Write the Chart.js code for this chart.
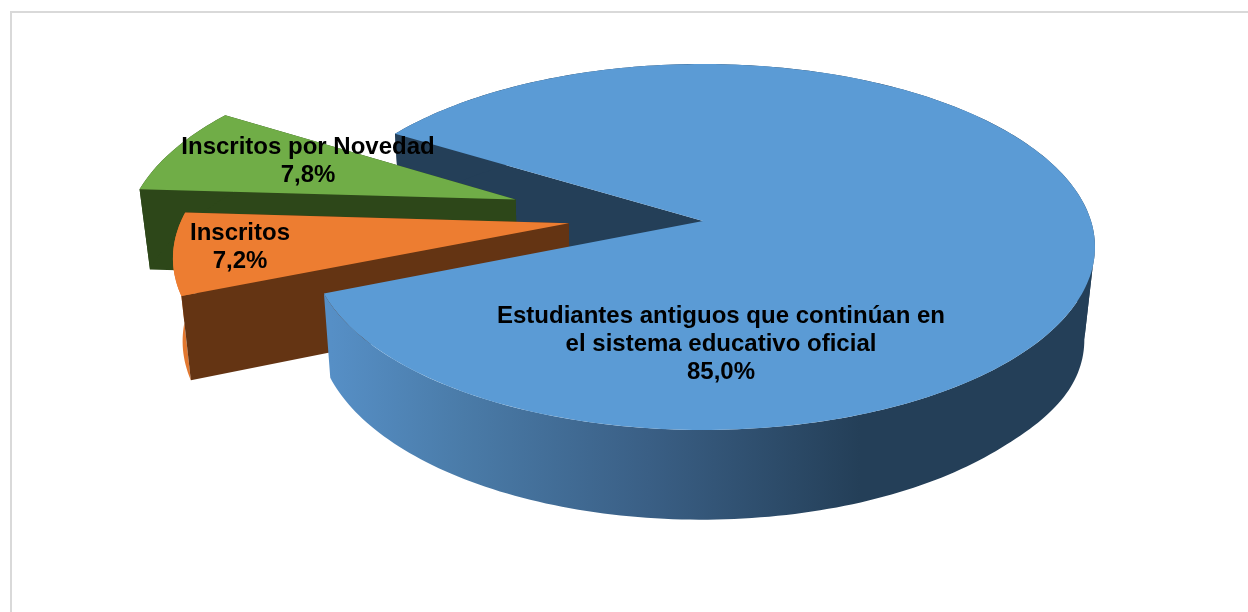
<!DOCTYPE html>
<html><head><meta charset="utf-8">
<style>
html,body{margin:0;padding:0;background:#fff;overflow:hidden;width:1248px;height:612px}
#frame{position:absolute;left:10px;top:11px;width:1300px;height:700px;border:2.5px solid #d9d9d9;box-sizing:border-box}
canvas{position:absolute;left:0;top:0}
</style>
<script src="https://cdn.jsdelivr.net/npm/chart.js@4"></script>
</head><body>
<div id="frame"></div>
<canvas id="c" width="1248" height="612"></canvas>
<script>
const categories = ["Estudiantes antiguos que continúan en el sistema educativo oficial", "Inscritos", "Inscritos por Novedad"];
const shares = [85.0, 7.2, 7.8];
const explode = [0, 0.35, 0.515];
const topColors = ["#5B9BD5", "#ED7D31", "#70AD47"];
const sideColors = ["#243F58", "#643413", "#2D4719"];
const rimColors = ["#243F58", "#E27830", "#2D4719"];
const rotationDeg = 301.5;

// Perspective camera for the tilted pie
const cam = {cx:703, cy:221, R:388, b:179.3, k:0.142};
const tiltFix = [0, -0.046, 0.033];
const project = (u,v) => { const w = 1-cam.k*v; return [cam.cx+cam.R*u/w, cam.cy+cam.b*v/w]; };
const drop = p => {
  const t=Math.max(0,(p[0]-1000)/95);
  return [701+(p[0]-703)*0.978, p[1]*1.04+72.5+10*t*t];
};

function outline(el, from, to){
  const i0=el.$context.index;
  const e = el.options.offset/100, mid=(el.startAngle+el.endAngle)/2;
  const ou=Math.cos(mid)*e, ov=Math.sin(mid)*e+tiltFix[i0], pts=[];
  const n=Math.max(2,Math.ceil((to-from)/0.02));
  for(let i=0;i<=n;i++){const a=from+(to-from)*i/n; pts.push(project(ou+Math.cos(a),ov+Math.sin(a)));}
  return {pts, tip:project(ou,ov)};
}
function fillPoly(ctx,pts,fill){
  ctx.beginPath(); pts.forEach((p,i)=>i?ctx.lineTo(p[0],p[1]):ctx.moveTo(p[0],p[1])); ctx.closePath();
  ctx.fillStyle=fill; ctx.fill();
}
function rimWall(ctx,el,from,to,fill){
  const {pts}=outline(el,from,to);
  fillPoly(ctx,pts.concat(pts.map(drop).reverse()),fill);
}
function radialWall(ctx,el,a,fill){
  const o=outline(el,a,a+1e-4), p=o.pts[0];
  fillPoly(ctx,[o.tip,p,drop(p),drop(o.tip)],fill);
}
function topFace(ctx,el,fill){
  const o=outline(el,el.startAngle,el.endAngle);
  fillPoly(ctx,[o.tip].concat(o.pts),fill);
}
function wrap(ctx,text,maxW){
  const lines=[];let cur="";
  text.split(" ").forEach(w=>{const t=cur?cur+" "+w:w; if(ctx.measureText(t).width>maxW&&cur){lines.push(cur);cur=w;}else cur=t;});
  lines.push(cur);return lines;
}
const labelAnchors=[[721,316.5],[240,233.5],[308,147.5]];
const pie3d={
  id:'pie3d',
  beforeDatasetDraw(chart){
    const ctx=chart.ctx, [blue,orange,green]=chart.getDatasetMeta(0).data;
    ctx.save();
    radialWall(ctx,blue,blue.startAngle,sideColors[0]);
    // the rim turns from hidden to visible where the pie is widest on screen
    const fromFront=Math.ceil(blue.startAngle/(2*Math.PI))*2*Math.PI+Math.asin(cam.k);
    rimWall(ctx,blue,blue.startAngle,fromFront,sideColors[0]);
    radialWall(ctx,green,green.endAngle,sideColors[2]);
    radialWall(ctx,green,green.startAngle,sideColors[2]);
    rimWall(ctx,green,green.startAngle,green.endAngle,rimColors[2]);
    topFace(ctx,green,topColors[2]);
    radialWall(ctx,orange,orange.endAngle,sideColors[1]);
    rimWall(ctx,orange,orange.startAngle,orange.endAngle,rimColors[1]);
    radialWall(ctx,orange,orange.startAngle,sideColors[1]);
    topFace(ctx,orange,topColors[1]);
    const g=ctx.createLinearGradient(331,0,860,0);
    g.addColorStop(0,'#568FC6'); g.addColorStop(0.25,'#4A7BA8'); g.addColorStop(0.6,'#3A5F85'); g.addColorStop(1,'#243F58');
    rimWall(ctx,blue,fromFront,blue.endAngle,g);
    topFace(ctx,blue,topColors[0]);
    ctx.restore();
    return false;
  },
  afterDatasetsDraw(chart){
    const ctx=chart.ctx;
    ctx.save();
    ctx.font='bold 24px "Liberation Sans", Arial, sans-serif';
    ctx.fillStyle='#000'; ctx.textAlign='center'; ctx.textBaseline='middle';
    categories.forEach((c,i)=>{
      const lines=wrap(ctx,c,455).concat([shares[i].toFixed(1).replace('.',',')+'%']);
      lines.forEach((t,j)=>ctx.fillText(t,labelAnchors[i][0],labelAnchors[i][1]+j*28));
    });
    ctx.restore();
  }
};
new Chart(document.getElementById('c'),{
  type:'pie',
  data:{labels:categories,datasets:[{data:shares,backgroundColor:topColors,borderWidth:0,offset:explode.map(e=>e*100)}]},
  options:{responsive:false,animation:false,rotation:rotationDeg,
    plugins:{legend:{display:false},tooltip:{enabled:false},title:{display:false}}},
  plugins:[pie3d]
});
</script>
</body></html>
